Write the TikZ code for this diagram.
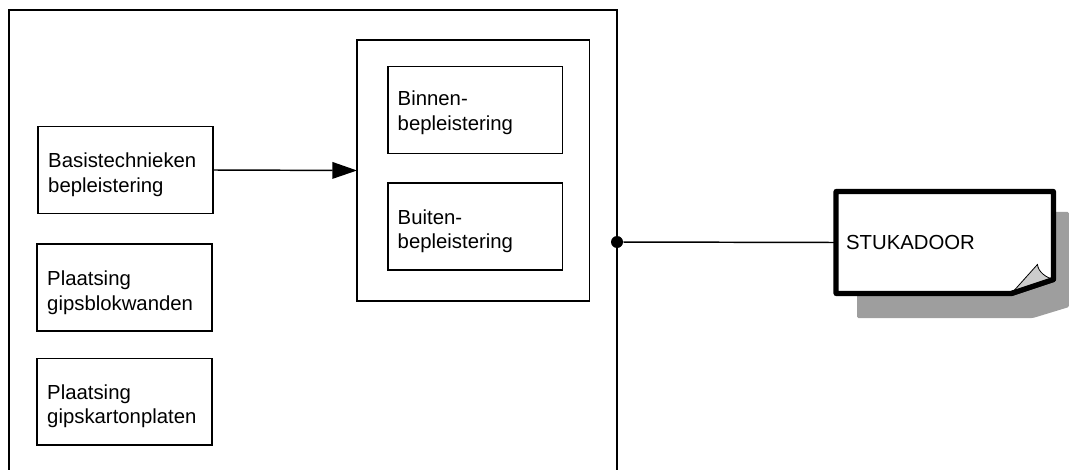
\documentclass[tikz,border=0pt]{standalone}
\usepackage{fontspec}
\setmainfont{Liberation Sans}
\usetikzlibrary{arrows.meta,backgrounds,calc,positioning}
\definecolor{shadowgray}{HTML}{9E9E9E}
\definecolor{foldgray}{HTML}{CCCCCC}
\tikzset{%
  font=\fontsize{15.25}{18.5}\selectfont,
  block/.style={draw,rectangle,line width=1.15pt,outer sep=0pt,inner xsep=7.5pt,inner ysep=0pt,%
    text width=115.9pt,text height=18.5pt,minimum height=65pt,align=left},
  groupblock/.style={draw,rectangle,line width=1.15pt,outer sep=0pt,minimum width=174.5pt,minimum height=195.7pt},
  notelabel/.style={rectangle,outer sep=0pt,inner xsep=7.5pt,inner ysep=0pt,text width=148pt,%
    minimum height=76.5pt,align=left},
  line/.style={draw,line width=1.1pt}
}
\begin{document}
\begin{tikzpicture}[x=.75pt,y=-.75pt,%
	joint/.style={circle,fill=black,inner sep=0pt,minimum size=9pt}]
	\useasboundingbox (0,0) rectangle (1069,470);
	% left column
	\node[block] (basis) at (125.5,170) {Basistechnieken\\bepleistering};
	\node[block] (blok) at (124.5,287.5) {Plaatsing\\gipsblokwanden};
	\node[block,text height=18pt,below=20.6pt of blok] (karton) {Plaatsing\\gipskartonplaten};
	% right group
	\node[groupblock] (groep) at (473.3,170.5) {};
	\node[block,text height=15pt] (binnen) at (475,110) {Binnen-\\bepleistering};
	\node[block,below=22.3pt of binnen] (buiten) {Buiten-\\bepleistering};
	% frame is open at the bottom
	\coordinate (frameleft) at (9,470);
	\coordinate (frameright) at (617,470);
	\coordinate (frametop) at (617,10);
	\draw[line width=1.4pt] (frameleft) |- (frametop) -- (frameright);
	\node[joint] (knoop) at (617,242) {};
	\node[notelabel] (note) at (944.75,242.5) {STUKADOOR};
	\coordinate (foldbottom) at ($(note.south east)+(-42,0)$);
	\coordinate (foldright) at ($(note.south east)+(0,-14)$);
	\coordinate (foldtip) at ($(note.south east)+(-16,-29)$);
	\begin{scope}[on background layer]
		\fill[shadowgray,rounded corners=1pt] (857,212) -- (1069,212) -- (1069,307) -- (1033,318) -- (857,318) -- cycle;
		\draw[line width=3.9pt,fill=white,line join=round] (note.north west) -- (note.north east) -- (foldright) -- (foldbottom) -- (note.south west) -- cycle;
		\draw[line width=.6pt,fill=foldgray] (foldbottom) -- (foldtip) .. controls ($(foldtip)+(1,8)$) and ($(foldright)+(-7,-2)$) .. (foldright) -- cycle;
		\draw[line width=3.9pt,line cap=round] (foldright) -- (foldbottom);
	\end{scope}
	\draw[line,-{Triangle[length=18.5pt,width=12.5pt]}] (basis.east) -- (groep.west);
	\draw[line] (knoop) -- (note.west);
\end{tikzpicture}
\end{document}
